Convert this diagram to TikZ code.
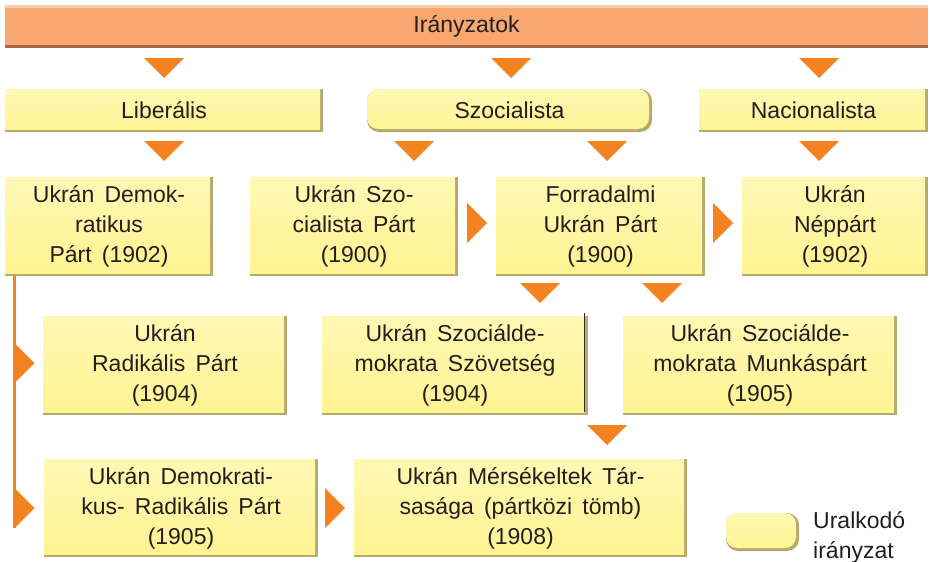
\documentclass[tikz,border=0pt]{standalone}
\usepackage{fontspec}
\setmainfont{Liberation Sans}[WordSpace=1.6]
\definecolor{ytop}{HTML}{FFF8B4}
\definecolor{ybot}{HTML}{FFF391}
\definecolor{olv}{HTML}{B5AA6B}
\definecolor{org}{HTML}{F58220}
\definecolor{txt}{HTML}{231F20}
\definecolor{bar}{HTML}{F8A770}
\definecolor{barhi}{HTML}{FBCDAB}
\definecolor{barlo}{HTML}{A5694A}
\newcommand\downtri[2]{\fill[org] (#1-20,#2) -- (#1+20,#2) -- (#1,#2+20) -- cycle;}
\newcommand\righttri[2]{\fill[org] (#1,#2-20) -- (#1+20,#2) -- (#1,#2+20) -- cycle;}
\tikzset{
  lbl/.style={text=txt, font=\fontsize{23}{30}\selectfont, align=center},
  ybox/.style={rectangle, inner sep=0pt, fill=olv, lbl,
    path picture={\shade[top color=ytop, bottom color=ybot]
      (path picture bounding box.north west) rectangle
      ([shift={(-3pt,3pt)}]path picture bounding box.south east);}},
  rbox/.style={rectangle, rounded corners=12pt, inner sep=0pt, fill=olv, lbl,
    path picture={\shade[top color=ytop, bottom color=ybot, rounded corners=11pt]
      (path picture bounding box.north west) rectangle
      ([shift={(-3pt,3pt)}]path picture bounding box.south east);}},
  topbar/.style={rectangle, inner sep=0pt, fill=bar, lbl,
    path picture={
      \fill[barhi] (path picture bounding box.north west) rectangle
        ([yshift=-3pt]path picture bounding box.north east);
      \fill[barlo] ([yshift=3pt]path picture bounding box.south west) rectangle
        (path picture bounding box.south east);}},
  conn/.style={draw=org, line width=3pt},
}
\begin{document}
\begin{tikzpicture}[x=1pt, y=-1pt]
\useasboundingbox (0,0) rectangle (934,562);
% top bar
\node[topbar, minimum width=923pt, minimum height=43pt] (top) at (466.5,26.5) {Irányzatok};
% row 2
\node[ybox, minimum width=318pt, minimum height=43pt] (lib) at (164,110.5) {Liberális};
\node[rbox, minimum width=285pt, minimum height=43pt] (soc) at (509.5,110.5) {Szocialista};
\node[ybox, minimum width=229pt, minimum height=43pt] (nac) at (813.5,110.5) {Nacionalista};
% row 3
\node[ybox, minimum width=208pt, minimum height=99pt] (udp) at (109,226.5) {Ukrán Demok-\\ratikus\\Párt (1902)};
\node[ybox, minimum width=208pt, minimum height=99pt] (usp) at (354,226.5) {Ukrán Szo-\\cialista Párt\\(1900)};
\node[ybox, minimum width=209pt, minimum height=99pt] (fup) at (600.5,226.5) {Forradalmi\\Ukrán Párt\\(1900)};
\node[ybox, minimum width=186pt, minimum height=99pt] (unp) at (835,226.5) {Ukrán\\Néppárt\\(1902)};
% row 4
\node[ybox, minimum width=244pt, minimum height=99pt] (urp) at (165,365.5) {Ukrán\\Radikális Párt\\(1904)};
\node[ybox, minimum width=266pt, minimum height=99pt] (usz) at (455,365.5) {Ukrán Szociálde-\\mokrata Szövetség\\(1904)};
\node[ybox, minimum width=274pt, minimum height=99pt] (usm) at (760,365.5) {Ukrán Szociálde-\\mokrata Munkáspárt\\(1905)};
% row 5
\node[ybox, minimum width=274pt, minimum height=98pt] (udr) at (181,508) {Ukrán Demokrati-\\kus- Radikális Párt\\(1905)};
\node[ybox, minimum width=333pt, minimum height=98pt] (umt) at (520.5,508) {Ukrán Mérsékeltek Tár-\\sasága (pártközi tömb)\\(1908)};
% legend
\node[rbox, minimum width=73pt, minimum height=38pt] (leg) at (762.5,532) {};
\node[lbl, align=left, anchor=west, inner sep=0pt] (legtxt) at (813,537) {Uralkodó\\irányzat};
% dark edge line
\draw[black!85, line width=1.3pt] ([shift={(-3.5pt,3pt)}]usz.north east) -- ([shift={(-3.5pt,3pt)}]usz.south east);
% vertical connector
\coordinate (lineend) at (14,528);
\draw[conn] (udp.south -| lineend) -- (lineend);
% down triangles
\downtri{164}{58}
\downtri{511}{58}
\downtri{819}{58}
\downtri{164}{141}
\downtri{414}{141}
\downtri{607}{141}
\downtri{819}{141}
\downtri{540}{283}
\downtri{662}{283}
\downtri{607}{425}
% right triangles
\righttri{467}{223}
\righttri{713}{223}
\righttri{14.5}{363}
\righttri{14.5}{508}
\righttri{325}{508}
\end{tikzpicture}
\end{document}
